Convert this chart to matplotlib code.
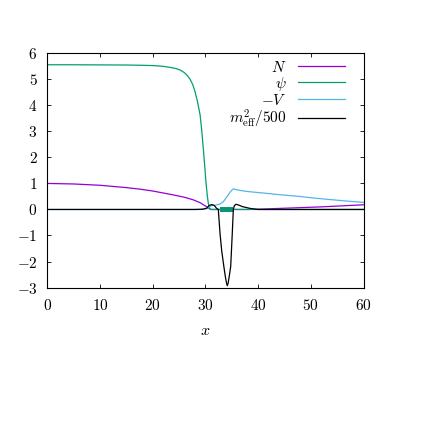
#!/usr/bin/env python
# -*- coding: utf-8 -*-
import numpy as np
import matplotlib
matplotlib.use('Agg')
import matplotlib.pyplot as plt

plt.rcParams['font.family'] = 'serif'
plt.rcParams['font.serif'] = ['cmr10']
plt.rcParams['mathtext.fontset'] = 'cm'
plt.rcParams['axes.formatter.use_mathtext'] = True

# Datos
x_N = [0, 5, 10, 15, 17.6, 20, 23.9, 26, 27.7, 29, 30.2, 30.6, 31, 34, 38, 40, 44, 48, 52, 56, 60]
N = [1.0, 0.98, 0.93, 0.84, 0.78, 0.71, 0.56, 0.47, 0.37, 0.26, 0.11, 0.05, 0.0, 0.0, 0.0, 0.01, 0.04, 0.07, 0.10, 0.14, 0.18]

x_psi = [0, 5, 10, 15, 18, 20, 22, 23.3, 24.3, 25.2, 26.0, 26.6, 27.1, 27.6, 28.0, 28.5, 29.0, 29.3, 29.6, 29.9, 30.1, 30.35, 30.55, 30.75, 31, 32.8, 60]
psi = [5.56, 5.56, 5.555, 5.55, 5.54, 5.53, 5.5, 5.46, 5.42, 5.36, 5.26, 5.14, 5.0, 4.8, 4.55, 4.15, 3.63, 3.05, 2.35, 1.6, 1.07, 0.55, 0.24, 0.07, 0.0, 0.0, 0.0]

# zona donde psi oscila muy rapido (se ve como una banda)
psi_band_x = [32.8, 35.3]
psi_band_lo = [-0.11, -0.11]
psi_band_hi = [0.11, 0.11]

x_V = [0, 20, 29, 30.3, 31, 32, 32.8, 33.4, 34.0, 34.6, 35.0, 35.3, 35.7, 36.6, 38, 40, 41.6, 44, 47.9, 51, 54.2, 57, 60]
mV = [0.0, 0.0, 0.0, 0.03, 0.14, 0.17, 0.21, 0.3, 0.46, 0.64, 0.74, 0.79, 0.77, 0.73, 0.69, 0.65, 0.62, 0.57, 0.5, 0.43, 0.37, 0.32, 0.27]

x_m = [0, 28, 29.5, 30.25, 30.7, 31.2, 31.7, 32.1, 32.45, 32.77, 33.1, 33.5, 33.8, 34.0, 34.15, 34.3, 34.5, 34.8, 35.1, 35.3, 35.5, 35.8, 36.3, 37, 38.5, 40, 60]
m_eff = [0.0, 0.0, 0.01, 0.05, 0.15, 0.19, 0.15, 0.05, 0.0, -0.91, -1.6, -2.19, -2.6, -2.82, -2.93, -2.85, -2.6, -2.19, -0.91, 0.0, 0.15, 0.2, 0.17, 0.11, 0.04, 0.0, 0.0]

fig = plt.figure(figsize=(4.37, 4.37), dpi=100)
ax = fig.add_axes([0.108, 0.342, 0.724, 0.536])

ax.plot(x_N, N, color='#9400d3', lw=0.9, label=r'$N$')
ax.plot(x_psi, psi, color='#009e73', lw=0.9, label=r'$\psi$')
ax.fill_between(psi_band_x, psi_band_lo, psi_band_hi, color='#009e73', lw=0)
ax.plot(x_V, mV, color='#56b4e9', lw=0.9, label=r'$-V$')
ax.plot(x_m, m_eff, color='black', lw=0.9, label=r'$m^2_{\rm eff}/500$')

ax.set_xlim(0, 60)
ax.set_ylim(-3, 6)
ax.set_xticks(np.arange(0, 61, 10))
ax.set_yticks(np.arange(-3, 7, 1))
ax.tick_params(direction='in', top=True, right=True, length=3.2, width=0.6, labelsize=11)
ax.tick_params(axis='x', pad=7.5)
ax.tick_params(axis='y', pad=7)
for s in ax.spines.values():
	s.set_linewidth(0.8)

ax.set_xlabel(r'$x$', fontsize=11.5, labelpad=8)

ax.legend(loc='upper right', frameon=False, markerfirst=False, fontsize=11,
	handlelength=3.1, labelspacing=0.0, borderaxespad=0.2, borderpad=0.3,
	handletextpad=0.7, bbox_to_anchor=(0.965, 1.005))

plt.savefig('out.png', dpi=100)
